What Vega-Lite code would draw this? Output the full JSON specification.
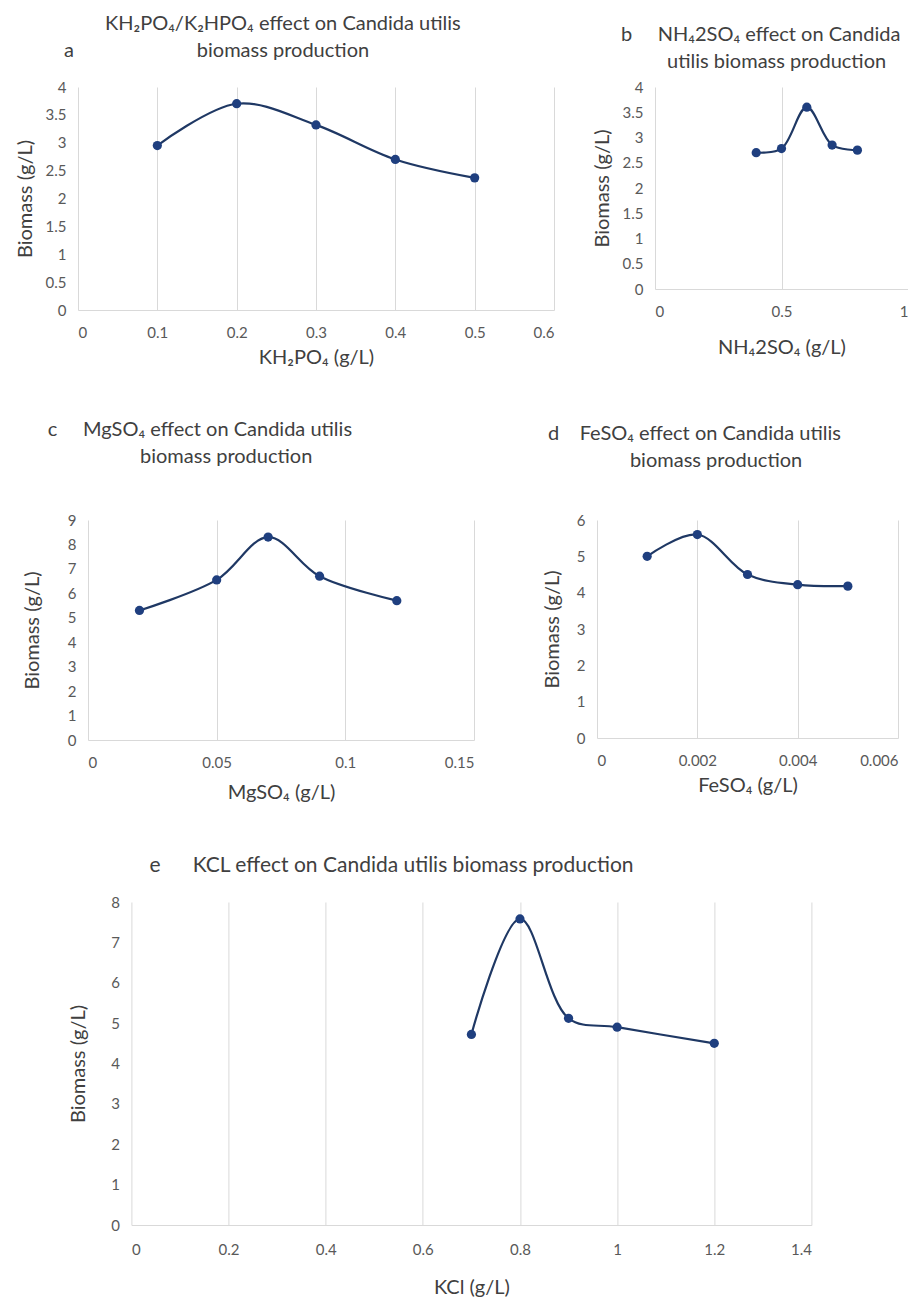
{
  "$schema": "https://vega.github.io/schema/vega-lite/v6.json",
  "background": "white",
  "padding": {"left": 12, "top": 14, "right": 0, "bottom": 4},
  "config": {
    "font": "Lato",
    "view": {"stroke": null},
    "axis": {"labelColor": "#595959", "labelFontSize": 15, "titleColor": "#404040", "titleFontSize": 20, "titleFontWeight": "normal", "ticks": false, "domain": false, "grid": false},
    "axisX": {"grid": true, "gridColor": "#d9d9d9", "domain": true, "domainColor": "#d9d9d9", "labelPadding": 15, "titlePadding": 7},
    "axisY": {"labelPadding": 12, "titlePadding": 10},
    "title": {"fontSize": 20, "fontWeight": "normal", "color": "#404040", "anchor": "start", "align": "left", "frame": "group", "lineHeight": 27},
    "line": {"color": "#1f3864", "strokeWidth": 2.2, "interpolate": "catmull-rom"},
    "point": {"color": "#1f3f7f", "filled": true, "size": 85, "opacity": 1}
  },
  "vconcat": [
    {
      "hconcat": [
        {
          "width": 476, "height": 223,
          "title": {"text": ["\u200b\u00a0\u00a0\u00a0\u00a0\u00a0\u00a0\u00a0\u00a0KH₂PO₄/K₂HPO₄ effect on Candida utilis", "a\u00a0\u00a0\u00a0\u00a0\u00a0\u00a0\u00a0\u00a0\u00a0\u00a0\u00a0\u00a0\u00a0\u00a0\u00a0\u00a0\u00a0\u00a0\u00a0\u00a0\u00a0\u00a0\u00a0\u00a0biomass production"], "dx": -14, "offset": 19},
          "data": {"values": [
            {"conc": 0.1, "biomass": 2.95}, {"conc": 0.2, "biomass": 3.7}, {"conc": 0.3, "biomass": 3.32}, {"conc": 0.4, "biomass": 2.7}, {"conc": 0.5, "biomass": 2.37}
          ]},
          "encoding": {
            "x": {"field": "conc", "type": "quantitative", "scale": {"domain": [0, 0.6], "nice": false}, "axis": {"values": [0, 0.1, 0.2, 0.3, 0.4, 0.5, 0.6], "format": ".1~f", "title": "KH₂PO₄ (g/L)"}},
            "y": {"field": "biomass", "type": "quantitative", "scale": {"domain": [0, 4], "nice": false}, "axis": {"values": [0, 0.5, 1, 1.5, 2, 2.5, 3, 3.5, 4], "format": ".1~f", "title": "Biomass (g/L)"}}
          },
          "layer": [{"mark": "line"}, {"mark": "point"}]
        },
        {
          "width": 253, "height": 202,
          "title": {"text": ["b\u00a0\u00a0\u00a0\u00a0\u00a0NH₄2SO₄ effect on Candida", "\u200b\u00a0\u00a0\u00a0\u00a0\u00a0\u00a0\u00a0\u00a0\u00a0utilis biomass production"], "dx": -34, "offset": 8},
          "data": {"values": [
            {"conc": 0.4, "biomass": 2.7}, {"conc": 0.5, "biomass": 2.78}, {"conc": 0.6, "biomass": 3.6}, {"conc": 0.7, "biomass": 2.85}, {"conc": 0.8, "biomass": 2.75}
          ]},
          "encoding": {
            "x": {"field": "conc", "type": "quantitative", "scale": {"domain": [0, 1], "nice": false}, "axis": {"values": [0, 0.5, 1], "format": ".1~f", "title": "NH₄2SO₄ (g/L)", "titlePadding": 18}},
            "y": {"field": "biomass", "type": "quantitative", "scale": {"domain": [0, 4], "nice": false}, "axis": {"values": [0, 0.5, 1, 1.5, 2, 2.5, 3, 3.5, 4], "format": ".1~f", "title": "Biomass (g/L)"}}
          },
          "layer": [{"mark": "line"}, {"mark": "point"}]
        }
      ],
      "spacing": 38
    },
    {
      "hconcat": [
        {
          "width": 386, "height": 220,
          "title": {"text": ["\u200b\u00a0\u00a0\u00a0\u00a0\u00a0\u00a0\u00a0c\u00a0\u00a0\u00a0\u00a0\u00a0MgSO₄ effect on Candida utilis", "\u200b\u00a0\u00a0\u00a0\u00a0\u00a0\u00a0\u00a0\u00a0\u00a0\u00a0\u00a0\u00a0\u00a0\u00a0\u00a0\u00a0\u00a0\u00a0\u00a0\u00a0\u00a0\u00a0\u00a0\u00a0\u00a0biomass production"], "dx": -76, "offset": 46},
          "data": {"values": [
            {"conc": 0.02, "biomass": 5.3}, {"conc": 0.05, "biomass": 6.55}, {"conc": 0.07, "biomass": 8.3}, {"conc": 0.09, "biomass": 6.7}, {"conc": 0.12, "biomass": 5.7}
          ]},
          "encoding": {
            "x": {"field": "conc", "type": "quantitative", "scale": {"domain": [0, 0.15], "nice": false}, "axis": {"values": [0, 0.05, 0.1, 0.15], "format": ".2~f", "title": "MgSO₄ (g/L)", "titlePadding": 12}},
            "y": {"field": "biomass", "type": "quantitative", "scale": {"domain": [0, 9], "nice": false}, "axis": {"values": [0, 1, 2, 3, 4, 5, 6, 7, 8, 9], "format": "d", "title": "Biomass (g/L)", "titlePadding": 25}}
          },
          "layer": [{"mark": "line"}, {"mark": "point"}]
        },
        {
          "width": 301, "height": 218,
          "title": {"text": ["d\u00a0\u00a0\u00a0\u00a0FeSO₄ effect on Candida utilis", "\u200b\u00a0\u00a0\u00a0\u00a0\u00a0\u00a0\u00a0\u00a0\u00a0\u00a0\u00a0\u00a0\u00a0\u00a0\u00a0\u00a0biomass production"], "dx": -49, "offset": 42},
          "data": {"values": [
            {"conc": 0.001, "biomass": 5.0}, {"conc": 0.002, "biomass": 5.6}, {"conc": 0.003, "biomass": 4.5}, {"conc": 0.004, "biomass": 4.22}, {"conc": 0.005, "biomass": 4.18}
          ]},
          "encoding": {
            "x": {"field": "conc", "type": "quantitative", "scale": {"domain": [0, 0.006], "nice": false}, "axis": {"values": [0, 0.002, 0.004, 0.006], "format": ".3~f", "title": "FeSO₄ (g/L)"}},
            "y": {"field": "biomass", "type": "quantitative", "scale": {"domain": [0, 6], "nice": false}, "axis": {"values": [0, 1, 2, 3, 4, 5, 6], "format": "d", "title": "Biomass (g/L)", "titlePadding": 14}}
          },
          "layer": [{"mark": "line"}, {"mark": "point"}]
        }
      ],
      "spacing": 68
    },
    {
      "width": 680, "height": 323,
      "title": {"text": "e\u00a0\u00a0\u00a0\u00a0\u00a0\u00a0KCL effect on Candida utilis biomass production\u00a0\u00a0\u00a0\u00a0\u00a0\u00a0\u00a0\u00a0\u00a0\u00a0\u00a0\u00a0\u00a0\u00a0\u00a0\u00a0\u00a0\u00a0\u00a0\u00a0\u00a0\u00a0\u00a0\u00a0\u00a0\u00a0\u00a0\u00a0\u00a0\u00a0\u00a0\u00a0\u00a0\u00a0\u00a0\u00a0\u00a0\u00a0\u00a0\u00a0\u00a0\u200b", "dx": 18, "offset": 19, "fontSize": 21},
      "data": {"values": [
        {"conc": 0.7, "biomass": 4.72}, {"conc": 0.8, "biomass": 7.58}, {"conc": 0.9, "biomass": 5.12}, {"conc": 1.0, "biomass": 4.9}, {"conc": 1.2, "biomass": 4.5}
      ]},
      "encoding": {
        "x": {"field": "conc", "type": "quantitative", "scale": {"domain": [0, 1.4], "nice": false}, "axis": {"values": [0, 0.2, 0.4, 0.6, 0.8, 1, 1.2, 1.4], "format": ".1~f", "title": "KCl (g/L)", "labelPadding": 17, "titlePadding": 20}},
        "y": {"field": "biomass", "type": "quantitative", "scale": {"domain": [0, 8], "nice": false}, "axis": {"values": [0, 1, 2, 3, 4, 5, 6, 7, 8], "format": "d", "title": "Biomass (g/L)", "titlePadding": 22}}
      },
      "layer": [{"mark": "line"}, {"mark": "point"}]
    }
  ],
  "center": true,
  "spacing": 53
}
